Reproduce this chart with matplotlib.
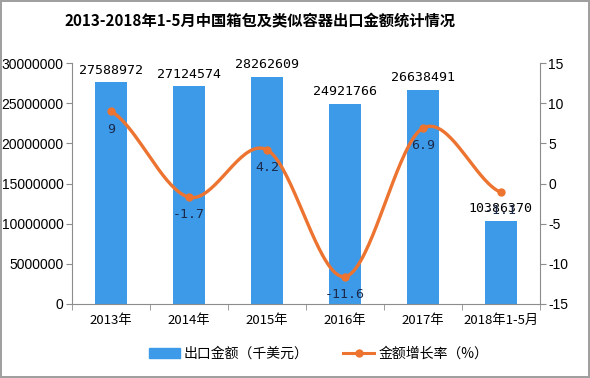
import numpy as np
import matplotlib
matplotlib.use('Agg')
import matplotlib.pyplot as plt
from matplotlib.lines import Line2D
from matplotlib.patches import Patch

plt.rcParams['font.family'] = ['Noto Sans CJK SC', 'DejaVu Sans']

years = ['2013年', '2014年', '2015年', '2016年', '2017年', '2018年1-5月']
export_amount = [27588972, 27124574, 28262609, 24921766, 26638491, 10386370]
growth_rate = [9, -1.7, 4.2, -11.6, 6.9, -1.1]


def smooth(y, n=40):
    # catmull-rom curve through the points, like the office "smoothed line"
    y = np.asarray(y, dtype=float)
    p = np.concatenate([[y[0]], y, [y[-1]]])
    xs, ys = [], []
    for i in range(len(y) - 1):
        p0, p1, p2, p3 = p[i], p[i + 1], p[i + 2], p[i + 3]
        t = np.linspace(0, 1, n)
        yy = 0.5 * (2 * p1 + (-p0 + p2) * t + (2 * p0 - 5 * p1 + 4 * p2 - p3) * t ** 2
                    + (-p0 + 3 * p1 - 3 * p2 + p3) * t ** 3)
        xs.append(i + t)
        ys.append(yy)
    return np.concatenate(xs), np.concatenate(ys)


fig = plt.figure(figsize=(5.9, 3.78), dpi=100)
fig.patch.set_edgecolor('#a0a0a0')
fig.patch.set_linewidth(1.5)
ax = fig.add_axes([0.122, 0.196, 0.793, 0.637])
x = np.arange(len(years))

bar_color = '#3D9AE8'
line_color = '#ED7430'
grey = '#8c8c8c'

ax.bar(x, export_amount, width=0.41, color=bar_color, zorder=2)
for xi, v in zip(x, export_amount):
    ax.text(xi, v + 700000, str(v), ha='center', va='bottom',
            fontsize=9.5, family='DejaVu Sans Mono', color='black')

ax.set_xlim(-0.5, len(years) - 0.5)
ax.set_ylim(0, 30000000)
ax.set_yticks(range(0, 30000001, 5000000))
ax.set_yticklabels([str(v) for v in range(0, 30000001, 5000000)],
                   family='Liberation Sans', fontsize=10)
ax.set_xticks(x)
ax.set_xticklabels(years, fontsize=9.5)
ax.set_xticks(np.arange(-0.5, len(years), 1), minor=True)
ax.tick_params(axis='x', which='major', length=0, pad=7)
ax.tick_params(axis='x', which='minor', length=4, color=grey)
ax.tick_params(axis='y', length=4, color=grey, pad=2)
ax.spines['top'].set_visible(False)
ax.spines['right'].set_visible(False)
for s in ['left', 'bottom']:
    ax.spines[s].set_color(grey)

ax2 = ax.twinx()
sx, sy = smooth(growth_rate)
ax2.plot(sx, sy, color=line_color, linewidth=2.4, zorder=3)
ax2.plot(x, growth_rate, 'o', color=line_color, markersize=5, zorder=4)
for xi, v in zip(x, growth_rate):
    ax2.text(xi, v - 1.4, str(v), ha='center', va='top',
             fontsize=9.5, family='DejaVu Sans Mono', color='#1b2a4a')
ax2.set_ylim(-15, 15)
ax2.set_yticks(range(-15, 16, 5))
ax2.set_yticklabels([str(v) for v in range(-15, 16, 5)],
                    family='Liberation Sans', fontsize=10)
ax2.tick_params(axis='y', length=4, color=grey, pad=2)
ax2.spines['top'].set_visible(False)
ax2.spines['left'].set_visible(False)
ax2.spines['bottom'].set_visible(False)
ax2.spines['right'].set_color(grey)

fig.suptitle('2013-2018年1-5月中国箱包及类似容器出口金额统计情况',
             x=0.44, y=0.965, fontsize=11, fontweight='bold')

handles = [Patch(color=bar_color),
           Line2D([0], [0], color=line_color, lw=2.2, marker='o', markersize=5)]
fig.legend(handles, ['出口金额（千美元）', '金额增长率（%）'], loc='center',
           bbox_to_anchor=(0.54, 0.064), ncol=2, frameon=False, fontsize=10,
           handlelength=2.2, columnspacing=2.5, handletextpad=0.3)

fig.savefig('out.png', dpi=100)
